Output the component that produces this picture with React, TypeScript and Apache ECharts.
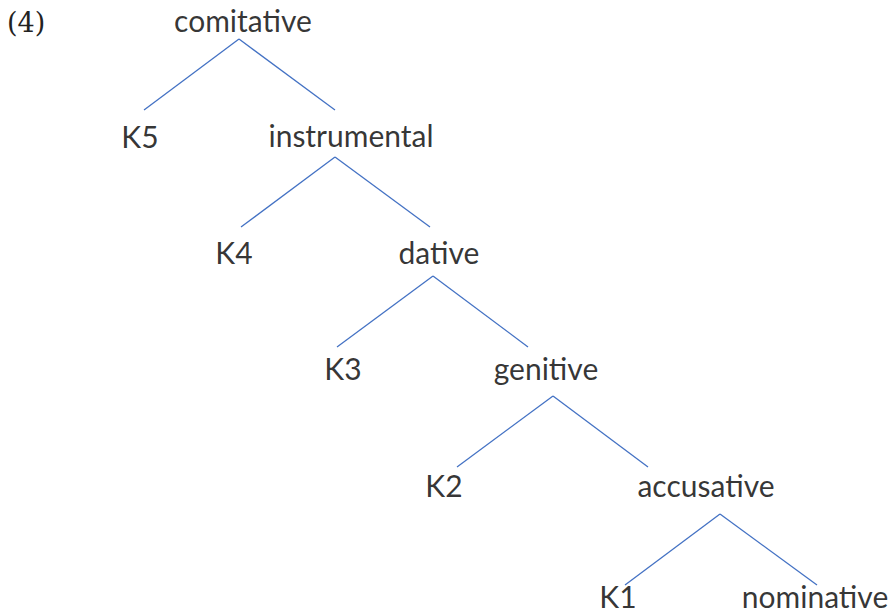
import React, { useEffect, useRef } from "react";
import * as echarts from "echarts";

// Tree nodes: label, horizontal centre, vertical level (label centre)
const nodeNames = ["comitative", "K5", "instrumental", "K4", "dative", "K3", "genitive", "K2", "accusative", "K1", "nominative"];
const nodeX = [243, 140, 351, 234, 439, 343, 546, 444, 706, 618, 815];
const nodeY = [20, 136, 135, 252, 252, 368, 368, 485, 485, 596, 596];

// Branches: apex (below parent) and the two ends (above children)
const apexX = [239, 335, 433, 553, 720];
const apexY = [39, 157, 276, 396, 514];
const leftX = [144, 241, 337, 457, 625];
const rightX = [335, 430, 528, 648, 817];
const endY = [110, 227, 347, 467, 585];

const exampleNumber = "(4)";

export default function App() {
  const ref = useRef<HTMLDivElement>(null);
  useEffect(() => {
    document.body.style.margin = "0";
    const chart = echarts.init(ref.current!, undefined, { renderer: "svg" });
    const edges: any[] = [];
    apexX.forEach((ax, i) => {
      edges.push({ coords: [[ax, apexY[i]], [leftX[i], endY[i]]] });
      edges.push({ coords: [[ax, apexY[i]], [rightX[i], endY[i]]] });
    });
    chart.setOption({
      animation: false,
      backgroundColor: "#ffffff",
      grid: { left: 0, right: 0, top: 0, bottom: 0 },
      xAxis: { type: "value", min: 0, max: 889, show: false },
      yAxis: { type: "value", min: 0, max: 614, inverse: true, show: false },
      graphic: [
        {
          type: "text",
          left: 7,
          top: 9,
          style: { text: exampleNumber, font: "27px 'DejaVu Serif'", fill: "#222222" },
        },
      ],
      series: [
        {
          type: "lines",
          coordinateSystem: "cartesian2d",
          polyline: false,
          lineStyle: { color: "#4472C4", width: 1.3, opacity: 1 },
          data: edges,
          silent: true,
        },
        {
          type: "scatter",
          symbolSize: 0,
          silent: true,
          data: nodeNames.map((n, i) => ({ name: n, value: [nodeX[i], nodeY[i]] })),
          label: {
            show: true,
            position: "inside",
            formatter: (p: any) => p.name,
            color: "#000000",
            fontFamily: "Lato",
            fontSize: 30,
            lineHeight: 26,
          },
        },
      ],
    });
    return () => chart.dispose();
  }, []);
  return <div ref={ref} style={{ position: "absolute", left: 0, top: 0, width: 889, height: 614 }} />;
}
